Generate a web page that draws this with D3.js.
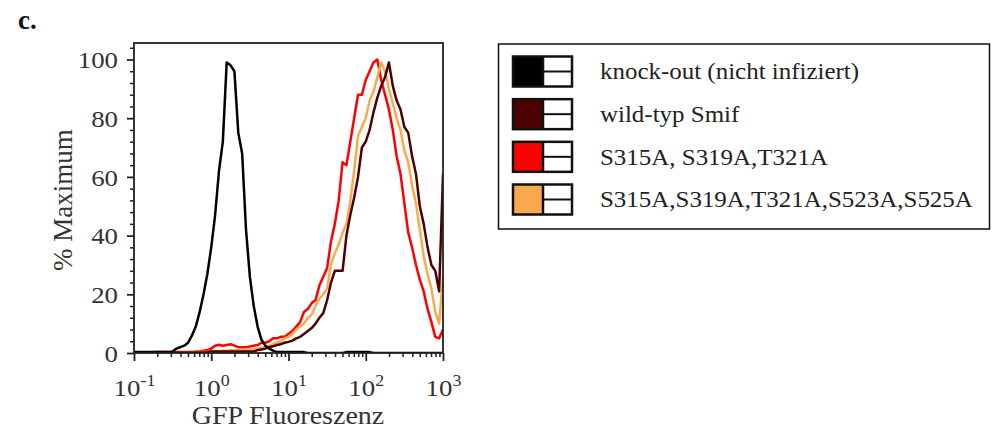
<!DOCTYPE html>
<html>
<head>
<meta charset="utf-8">
<script src="https://cdn.jsdelivr.net/npm/d3@7"></script>
<style>
  body { margin: 0; background: #fff; }
</style>
</head>
<body>
<div id="chart"></div>
<script>
// histogram bin positions (log10 of GFP fluorescence)
var bins = [-1.00, -0.95, -0.90, -0.85, -0.80, -0.75, -0.70, -0.65, -0.60, -0.55,
            -0.50, -0.45, -0.40, -0.35, -0.30, -0.25, -0.20, -0.15, -0.10, -0.05,
             0.00,  0.05,  0.10,  0.15,  0.20,  0.25,  0.30,  0.35,  0.40,  0.45,
             0.50,  0.55,  0.60,  0.65,  0.70,  0.75,  0.80,  0.85,  0.90,  0.95,
             1.00,  1.05,  1.10,  1.15,  1.20,  1.25,  1.30,  1.35,  1.40,  1.45,
             1.50,  1.55,  1.60,  1.65,  1.70,  1.75,  1.80,  1.85,  1.90,  1.95,
             2.00,  2.05,  2.10,  2.15,  2.20,  2.25,  2.30,  2.35,  2.40,  2.45,
             2.50,  2.55,  2.60,  2.65,  2.70,  2.75,  2.80,  2.85,  2.90,  2.95,
             3.00];

// % of maximum, one value per bin
var knockOut = [0.3, 0.3, 0.3, 0.3, 0.3, 0.3, 0.3, 0.3, 0.3, 0.3,
                0.5, 1.5, 2, 2.5, 3.5, 6, 9, 14, 20, 27,
                36, 47, 62, 72, 99, 98, 96, 75, 68, 42,
                26, 16, 9, 4.5, 2.5, 1.5, 0.8, 0.3, 0.3, 0.3,
                0.3, 0.3, 0.3, 0.3, 0.3, 0, 0, 0, 0, 0,
                0, 0, 0, 0, 0, 0.3, 0.3, 0.3, 0.3, 0.3,
                0.3, 0.3, 0, 0, 0, 0, 0, 0, 0, 0,
                0, 0, 0, 0, 0, 0, 0, 0, 0, 0,
                0];

var wildTyp = [0.2, 0.2, 0.2, 0.2, 0.2, 0.2, 0.2, 0.2, 0.2, 0.2,
               0.2, 0.2, 0.2, 0.2, 0.2, 0.2, 0.2, 0.2, 0.2, 0.2,
               0.5, 0.5, 0.5, 0.5, 0.5, 0.5, 0.5, 0.5, 0.5, 0.5,
               0.5, 0.5, 1, 1.2, 1.5, 2, 2.3, 2.7, 3, 3.5,
               3.8, 4.2, 5, 5.5, 6.5, 7.5, 8.5, 10, 12, 13.6,
               18, 24, 28, 28, 28, 40, 47, 53, 60, 70,
               72, 76, 82, 87, 91, 94, 99, 91, 86, 83,
               77, 75, 67, 61, 50, 44, 36, 30, 28, 21,
               61];

var mutant3 = [0, 0, 0, 0, 0, 0.3, 0.3, 0.3, 0.3, 0.3,
               0.3, 0.3, 0.3, 0.3, 0.3, 0.3, 0.5, 0.6, 0.8, 1,
               1.5, 2.5, 2.8, 2.5, 2.7, 3, 2.5, 2, 2, 2,
               2.2, 2.5, 2.7, 3.5, 3.5, 4, 5, 5, 5.5, 5.5,
               6.5, 7.5, 9, 10.5, 14, 15, 17, 18, 23, 26,
               29, 38, 44, 52, 65, 64, 72, 80, 88, 88,
               93, 96, 99, 100, 93, 88, 83, 76, 67, 61,
               51, 41, 36, 30, 25, 21, 15, 10.5, 5.5, 5,
               8];

var mutant5 = [0, 0, 0, 0, 0, 0, 0.3, 0.3, 0.3, 0.3,
               0.3, 0.3, 0.3, 0.3, 0.3, 0.3, 0.3, 0.3, 0.3, 0.3,
               0.5, 0.6, 0.7, 0.8, 0.8, 0.9, 0.9, 1, 1, 1.1,
               1.2, 1.3, 1.5, 1.8, 2, 2.5, 3, 3.5, 4, 5,
               5.5, 6.5, 8, 9, 10, 12, 13, 16, 18.5, 20,
               22, 30, 34, 37, 41, 44, 52, 62, 74, 77,
               80, 86, 89, 94, 99, 96, 90, 85, 80, 76,
               69, 65, 57, 51, 42, 33, 27, 22, 14, 10,
               26];

var seriesNames = ["knock-out (nicht infiziert)", "wild-typ Smif", "S315A, S319A,T321A", "S315A,S319A,T321A,S523A,S525A"];
var seriesColors = ["#000000", "#4d0000", "#ff0000", "#fba94f"];

var yTicks = [0, 20, 40, 60, 80, 100];
var xTicks = [0.1, 1, 10, 100, 1000];
var xExponents = ["-1", "0", "1", "2", "3"];

var width = 994, height = 430;
var plot = {left: 134, right: 443, top: 43, bottom: 353};
var stretch = 1.12;   // the original type is a bit wide

var svg = d3.select("#chart").append("svg")
    .attr("width", width)
    .attr("height", height)
    .style("font-family", "'Liberation Serif', 'Times New Roman', serif");

var x = d3.scaleLog().domain([0.1, 1000]).range([plot.left, plot.right]);
var y = d3.scaleLinear().domain([0, 100]).range([plot.bottom, 59.5]);

svg.append("defs").append("clipPath").attr("id", "clip")
  .append("rect")
    .attr("x", plot.left).attr("y", plot.top)
    .attr("width", plot.right - plot.left)
    .attr("height", plot.bottom - plot.top);

// curves, drawn back to front
var line = d3.line()
    .x(function(d, i) { return x(Math.pow(10, bins[i])); })
    .y(function(d) { return y(d); });

var drawOrder = [
  {values: mutant3, color: seriesColors[2]},
  {values: mutant5, color: seriesColors[3]},
  {values: wildTyp, color: seriesColors[1]},
  {values: knockOut, color: seriesColors[0]}
];

svg.append("g")
    .attr("clip-path", "url(#clip)")
  .selectAll("path")
  .data(drawOrder)
  .enter().append("path")
    .attr("d", function(d) { return line(d.values); })
    .attr("fill", "none")
    .attr("stroke", function(d) { return d.color; })
    .attr("stroke-width", 2.5)
    .attr("stroke-linejoin", "round");

// y axis: minor then major ticks
var yMinor = d3.range(0, 105, 4).filter(function(v) { return v % 20 != 0; });
svg.append("g")
    .attr("transform", "translate(" + plot.left + ",0)")
    .call(d3.axisLeft(y).tickValues(yMinor).tickSize(4).tickFormat(""))
    .call(function(g) { g.select(".domain").remove(); })
    .selectAll("line").attr("stroke", "#222").attr("stroke-width", 1.5);

var yAxis = svg.append("g")
    .attr("transform", "translate(" + plot.left + ",0)")
    .call(d3.axisLeft(y).tickValues(yTicks).tickSize(7).tickSizeOuter(0));
yAxis.select(".domain").remove();
yAxis.selectAll("line").attr("stroke", "#222").attr("stroke-width", 1.8);
yAxis.selectAll("text")
    .attr("x", -16 / stretch)
    .attr("dy", "0.34em")
    .attr("transform", "scale(" + stretch + ",1)")
    .attr("font-family", "'Liberation Serif', serif")
    .attr("font-size", 24)
    .attr("fill", "#333");

// x axis: minor then major ticks
var xMinor = x.ticks().filter(function(v) { return xTicks.indexOf(v) < 0; });
svg.append("g")
    .attr("transform", "translate(0," + plot.bottom + ")")
    .call(d3.axisBottom(x).tickValues(xMinor).tickSize(4).tickFormat(""))
    .call(function(g) { g.select(".domain").remove(); })
    .selectAll("line").attr("stroke", "#222").attr("stroke-width", 1.5);

var xAxis = svg.append("g")
    .attr("transform", "translate(0," + plot.bottom + ")")
    .call(d3.axisBottom(x).tickValues(xTicks).tickSize(8).tickSizeOuter(0));
xAxis.select(".domain").remove();
xAxis.selectAll("line").attr("stroke", "#222").attr("stroke-width", 1.8);
xAxis.selectAll("text").each(function(d, i) {
  var t = d3.select(this);
  t.text(null)
    .attr("y", 43)
    .attr("dy", null)
    .attr("transform", "scale(" + stretch + ",1)")
    .attr("font-family", "'Liberation Serif', serif")
    .attr("font-size", 24)
    .attr("fill", "#333");
  t.append("tspan").text("10");
  t.append("tspan").attr("dy", -10).attr("font-size", 16).text(xExponents[i]);
});

// frame
svg.append("rect")
    .attr("x", plot.left).attr("y", plot.top)
    .attr("width", plot.right - plot.left)
    .attr("height", plot.bottom - plot.top)
    .attr("fill", "none")
    .attr("stroke", "#222")
    .attr("stroke-width", 1.8);

// titles
svg.append("text")
    .attr("transform", "translate(288,424) scale(" + stretch + ",1)")
    .attr("text-anchor", "middle")
    .attr("font-size", 25)
    .attr("fill", "#333")
    .text("GFP Fluoreszenz");

svg.append("text")
    .attr("transform", "translate(72,200) rotate(-90)")
    .attr("text-anchor", "middle")
    .attr("font-size", 27)
    .attr("fill", "#333")
    .text("% Maximum");

svg.append("text")
    .attr("x", 18).attr("y", 29)
    .attr("font-size", 27)
    .attr("font-weight", "bold")
    .attr("fill", "#111")
    .text("c.");

// legend
svg.append("rect")
    .attr("x", 498.5).attr("y", 44)
    .attr("width", 491).attr("height", 185)
    .attr("fill", "none")
    .attr("stroke", "#111")
    .attr("stroke-width", 1.5);

var ly = d3.scalePoint().domain(seriesNames).range([71.5, 199.5]);

var legend = svg.append("g")
  .selectAll("g")
  .data(seriesNames)
  .enter().append("g")
    .attr("transform", function(d) { return "translate(513," + ly(d) + ")"; });

legend.append("rect")
    .attr("x", 0).attr("y", -15)
    .attr("width", 30).attr("height", 30)
    .attr("fill", function(d, i) { return seriesColors[i]; });

legend.append("rect")
    .attr("x", 0).attr("y", -15)
    .attr("width", 59).attr("height", 30)
    .attr("fill", "none")
    .attr("stroke", "#111")
    .attr("stroke-width", 2.5);

legend.append("line")
    .attr("x1", 30).attr("x2", 30).attr("y1", -15).attr("y2", 15)
    .attr("stroke", "#111").attr("stroke-width", 2.5);

legend.append("line")
    .attr("x1", 30).attr("x2", 59).attr("y1", 0).attr("y2", 0)
    .attr("stroke", "#111").attr("stroke-width", 2);

legend.append("text")
    .attr("transform", "translate(87,0) scale(1.04,1)")
    .attr("dy", "0.32em")
    .attr("font-size", 24)
    .attr("fill", "#222")
    .text(function(d) { return d; });
</script>
</body>
</html>
